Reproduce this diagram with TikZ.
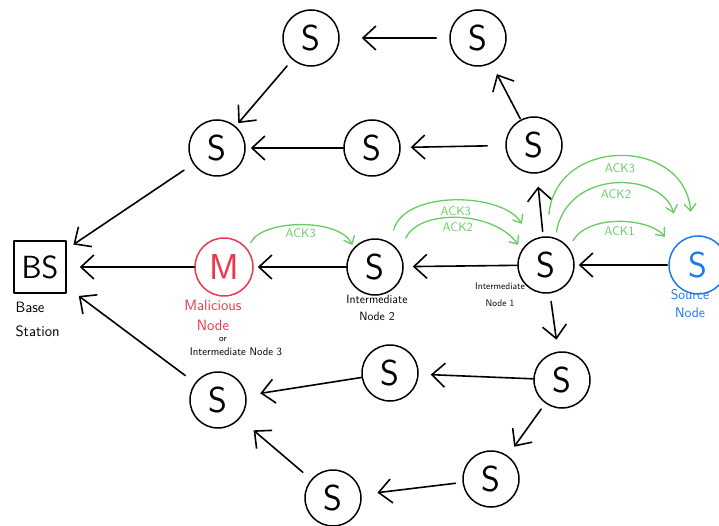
\documentclass[tikz,border=0pt]{standalone}
\usepackage{tikz}
\usetikzlibrary{arrows.meta}
\definecolor{ackgreen}{rgb}{0.40,0.80,0.38}
\definecolor{malred}{rgb}{0.92,0.22,0.30}
\definecolor{srcblue}{rgb}{0.12,0.47,0.95}
\tikzset{every node/.style={font=\sffamily}}

\begin{document}
\begin{tikzpicture}[line cap=round,line join=round,x=1pt,y=-1pt,
  >={Straight Barb[length=13pt,width=24pt]},
  sensor/.style={draw,circle,line width=1.5pt,minimum size=56pt,inner sep=0pt,font=\sffamily\fontsize{36}{36}\selectfont},
  edge/.style={->,line width=1.6pt},
  ack/.style={-{Straight Barb[length=7pt,width=12pt]},line width=1.3pt,color=ackgreen},
  acklabel/.style={below=0pt,inner sep=2pt,text=ackgreen,font=\sffamily\fontsize{12.5}{12.5}\selectfont},
  caption/.style={align=center}]
\clip (0,0) rectangle (719,526);
% base station and the main route
\node[draw,line width=1.5pt,minimum width=52pt,minimum height=52pt,font=\sffamily\fontsize{32}{32}\selectfont] (bs) at (40,267) {BS};
\node[sensor,draw=malred,text=malred,minimum size=58pt] (mal) at (224,267) {M};
\node[sensor] (int2) at (375,267) {S};
\node[sensor] (int1) at (546,265) {S};
\node[sensor,draw=srcblue,text=srcblue,minimum size=58pt] (src) at (698,265) {S};
% upper nodes
\node[sensor] (ta) at (311,38) {S};
\node[sensor] (tb) at (478,38) {S};
\node[sensor] (ma) at (217,148) {S};
\node[sensor] (mb) at (372,148) {S};
\node[sensor] (mc) at (534,145) {S};
% lower nodes
\node[sensor] (ba) at (562,380) {S};
\node[sensor] (bb) at (390,373) {S};
\node[sensor] (bc) at (218,400) {S};
\node[sensor] (bd) at (491,479) {S};
\node[sensor] (be) at (333,498) {S};
% captions
\node[caption,anchor=west,align=left,font=\sffamily\fontsize{15}{24}\selectfont] (bscap) at (12,319) {Base\\Station};
\node[caption,text=malred,font=\sffamily\fontsize{15}{20}\selectfont] (malcap) at (213,315) {Malicious\\Node};
\node[caption,font=\sffamily\fontsize{9}{9}\selectfont] (orcap) at (223,339) {or};
\node[caption,font=\sffamily\fontsize{11}{11}\selectfont] (int3cap) at (236,352) {Intermediate Node 3};
\node[caption,font=\sffamily\fontsize{12}{17}\selectfont] (int2cap) at (377,308) {Intermediate\\Node 2};
\node[caption,font=\sffamily\fontsize{9.5}{17}\selectfont] (int1cap) at (500,295) {Intermediate\\Node 1};
\node[caption,text=srcblue,font=\sffamily\fontsize{14}{18}\selectfont] (srccap) at (690,304) {Source\\Node};
% packet flow
\draw[edge,shorten <=1pt,shorten >=4pt] (src) -- (int1);
\draw[edge,shorten <=0pt,shorten >=9pt] (int1) -- (int2);
\draw[edge,shorten <=0pt,shorten >=4pt] (int2) -- (mal);
\draw[edge,shorten <=0pt,shorten >=13pt] (mal) -- (bs);
\draw[edge,shorten <=5pt,shorten >=13pt] (int1) -- (mc);
\draw[edge,shorten <=1pt,shorten >=12pt] (mc) -- (tb);
\draw[edge,shorten <=13pt,shorten >=22pt] (tb) -- (ta);
\draw[edge,shorten <=8pt,shorten >=4pt] (ta) -- (ma);
\draw[edge,shorten <=18pt,shorten >=10pt] (mc) -- (mb);
\draw[edge,shorten <=0pt,shorten >=5pt] (mb) -- (ma);
\draw[edge,shorten <=11pt,shorten >=8pt] (ma) -- (bs);
\draw[edge,shorten <=8pt,shorten >=12pt] (int1) -- (ba);
\draw[edge,shorten <=0pt,shorten >=12pt] (ba) -- (bb);
\draw[edge,shorten <=0pt,shorten >=14pt] (bb) -- (bc);
\draw[edge,shorten <=7pt,shorten >=11pt] (ba) -- (bd);
\draw[edge,shorten <=7pt,shorten >=16pt] (bd) -- (be);
\draw[edge,shorten <=11pt,shorten >=18pt] (be) -- (bc);
\draw[edge,shorten <=12pt,shorten >=15pt] (bc) -- (bs);
% acknowledgements
\draw[ack,shorten <=7pt,shorten >=3pt] (mal.37) to[out=65,in=115,looseness=0.8] node[acklabel]{ACK3} (int2.138);
\draw[ack,shorten <=13pt,shorten >=19pt] (int2.58) to[out=75,in=120] node[acklabel]{ACK3} (int1.121);
\draw[ack,shorten <=15pt,shorten >=6pt] (int2.32) to[out=65,in=125] node[acklabel]{ACK2} (int1.148);
\draw[ack,shorten <=8pt,shorten >=14pt] (int1.37) to[out=60,in=130,looseness=0.95] node[acklabel]{ACK1} (src.144);
\draw[ack,shorten <=6pt,shorten >=28pt] (int1.71) to[out=80,in=105,looseness=1.45] node[acklabel]{ACK2} (src.125);
\draw[ack,shorten <=22pt,shorten >=24pt] (int1.88) to[out=85,in=95,looseness=1.75] node[acklabel]{ACK3} (src.100);
\end{tikzpicture}
\end{document}
